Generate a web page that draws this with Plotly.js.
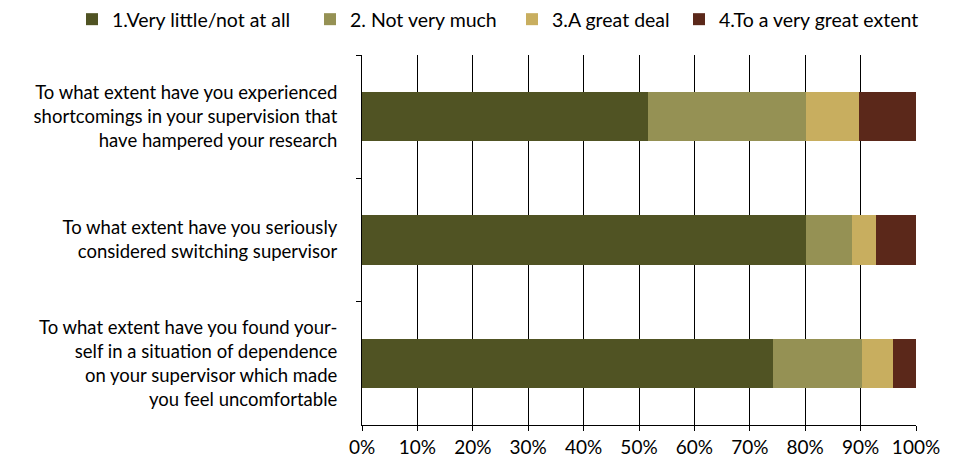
<!DOCTYPE html>
<html><head><meta charset="utf-8">
<script src="https://cdn.plot.ly/plotly-3.0.1.min.js"></script>
<style>body{margin:0;background:#fff}#c{width:957px;height:464px}</style>
</head><body><div id="c"></div>
<script>
const categories = [
  "To what extent have you experienced<br>shortcomings in your supervision that<br>have hampered your research",
  "To what extent have you seriously<br>considered switching supervisor",
  "To what extent have you found your-<br>self in a situation of dependence<br>on your supervisor which made<br>you feel uncomfortable"
];
const seriesNames = ["1.Very little/not at all", "2. Not very much", "3.A great deal", "4.To a very great extent"];
const veryLittle = [51.7, 80.2, 74.1];
const notVeryMuch = [28.4, 8.2, 16.1];
const greatDeal = [9.7, 4.3, 5.6];
const veryGreat = [10.2, 7.3, 4.2];
const colors = ["#505323", "#959154", "#C8AE5F", "#5B281A"];
const xTicks = [0,10,20,30,40,50,60,70,80,90,100];
const xTickText = xTicks.map(v => v + "%");

const font = "Lato, 'Open Sans', sans-serif";
const legendIds = ["legend", "legend2", "legend3", "legend4"];
const legendX = [72, 310, 512, 679];

const values = [veryLittle, notVeryMuch, greatDeal, veryGreat];
const traces = values.map((v, i) => ({
  type: "bar", orientation: "h", name: seriesNames[i], legend: legendIds[i],
  x: v, y: categories, marker: {color: colors[i], line: {width: 0}}
}));

const layout = {
  width: 957, height: 464,
  barmode: "stack", bargap: 0.6,
  margin: {l: 362, r: 41, t: 55, b: 39, autoexpand: false},
  paper_bgcolor: "#fff", plot_bgcolor: "#fff",
  font: {family: font, size: 18.5, color: "#000"},
  showlegend: true,
  xaxis: {range: [0, 100], tickvals: xTicks, ticktext: xTickText,
    showgrid: true, gridcolor: "#000", gridwidth: 1, zeroline: false,
    showline: true, linecolor: "#000", linewidth: 1, ticks: "outside", ticklen: 5, tickcolor: "#000",
    tickfont: {family: font, size: 19}},
  yaxis: {type: "category", autorange: "reversed", tickson: "boundaries",
    showline: true, linecolor: "#000", linewidth: 1, ticks: "outside", ticklen: 5, tickcolor: "#000",
    showgrid: false, ticklabelstandoff: 20, tickfont: {family: font, size: 18.5}}
};
legendIds.forEach((id, i) => {
  layout[id] = {orientation: "h", xref: "container", yref: "container",
    x: legendX[i] / 957, xanchor: "left", y: 1.0, yanchor: "top",
    font: {family: font, size: 19.5, color: "#000"}, itemwidth: 30, bgcolor: "rgba(0,0,0,0)"};
});
Plotly.newPlot("c", traces, layout, {displayModeBar: false, staticPlot: true});
</script></body></html>
